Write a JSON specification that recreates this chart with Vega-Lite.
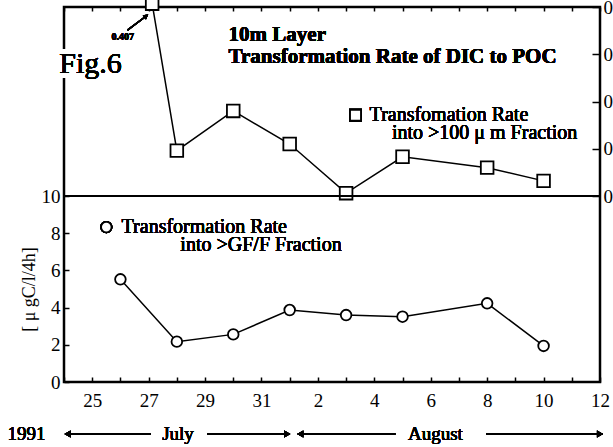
{
  "$schema": "https://vega.github.io/schema/vega-lite/v6.json",
  "width": 536,
  "height": 375,
  "autosize": {"type": "none"},
  "padding": {"left": 64, "top": 7, "right": 13, "bottom": 65},
  "background": "white",
  "config": {
    "font": "Liberation Serif",
    "view": {"stroke": "black", "strokeWidth": 2.5},
    "axis": {
      "labelColor": "black", "labelFont": "Liberation Serif", "labelFontSize": 19,
      "tickColor": "black", "tickWidth": 1.5, "grid": false, "domain": false,
      "titleColor": "black", "titleFont": "Liberation Serif", "titleFontWeight": "normal",
      "labelFlush": false, "labelOverlap": false
    },
    "text": {"font": "Liberation Serif", "color": "black"}
  },
  "resolve": {"scale": {"y": "independent"}, "axis": {"x": "independent", "y": "independent"}},
  "layer": [
    {
      "data": {
        "values": [
          {"date": "1991-07-27 03:00", "rate": 0.407},
          {"date": "1991-07-28 00:00", "rate": 0.096},
          {"date": "1991-07-30 00:00", "rate": 0.18},
          {"date": "1991-08-01 00:00", "rate": 0.11},
          {"date": "1991-08-03 00:00", "rate": 0.006},
          {"date": "1991-08-05 00:00", "rate": 0.083},
          {"date": "1991-08-08 00:00", "rate": 0.06},
          {"date": "1991-08-10 00:00", "rate": 0.032}
        ],
        "format": {"parse": {"date": "date:'%Y-%m-%d %H:%M'"}}
      },
      "layer": [
        {
          "mark": {"type": "text", "text": "Fig.6", "fontSize": 30, "align": "left", "baseline": "alphabetic", "fill": "white", "stroke": "white", "strokeWidth": 9},
          "encoding": {
            "x": {"datum": {"year": 1991, "month": 7, "date": 23, "hours": 20}, "type": "temporal"},
            "y": {"datum": 0.26}
          }
        },
        {
          "mark": {"type": "line", "color": "black", "strokeWidth": 1.5},
          "encoding": {
            "x": {
              "field": "date", "type": "temporal",
              "scale": {"domain": [{"year": 1991, "month": 7, "date": 24}, {"year": 1991, "month": 8, "date": 12}], "nice": false},
              "axis": {"orient": "top", "labels": false, "title": null, "tickCount": {"interval": "day", "step": 1}, "tickSize": -4}
            },
            "y": {
              "field": "rate", "type": "quantitative",
              "scale": {"domain": [0, 0.4], "range": [189, 0], "nice": false, "zero": false},
              "axis": {"orient": "right", "values": [0, 0.1, 0.2, 0.3, 0.4], "format": ".1f", "title": null, "tickSize": -8, "labelPadding": 11}
            }
          }
        },
        {
          "mark": {"type": "point", "shape": "square", "size": 160, "filled": true, "fill": "white", "stroke": "black", "strokeWidth": 1.8, "opacity": 1},
          "encoding": {
            "x": {"field": "date", "type": "temporal"},
            "y": {"field": "rate", "type": "quantitative"}
          }
        },
        {
          "mark": {"type": "text", "text": "10m Layer", "fontSize": 21, "fontWeight": "bold", "align": "left", "baseline": "middle"},
          "encoding": {
            "x": {"datum": {"year": 1991, "month": 7, "date": 29, "hours": 20}, "type": "temporal"},
            "y": {"datum": 0.341}
          }
        },
        {
          "mark": {"type": "text", "text": "Transformation Rate of DIC to POC", "fontSize": 21, "fontWeight": "bold", "align": "left", "baseline": "middle"},
          "encoding": {
            "x": {"datum": {"year": 1991, "month": 7, "date": 29, "hours": 20}, "type": "temporal"},
            "y": {"datum": 0.294}
          }
        },
        {
          "mark": {"type": "point", "shape": "square", "size": 120, "filled": true, "fill": "white", "stroke": "black", "strokeWidth": 1.8, "opacity": 1},
          "encoding": {
            "x": {"datum": {"year": 1991, "month": 8, "date": 3, "hours": 8}, "type": "temporal"},
            "y": {"datum": 0.171}
          }
        },
        {
          "mark": {"type": "text", "text": "Transfomation Rate", "fontSize": 20, "align": "left", "baseline": "middle"},
          "encoding": {
            "x": {"datum": {"year": 1991, "month": 8, "date": 3, "hours": 20}, "type": "temporal"},
            "y": {"datum": 0.171}
          }
        },
        {
          "mark": {"type": "text", "text": "into >100 μ m Fraction", "fontSize": 20, "align": "left", "baseline": "middle"},
          "encoding": {
            "x": {"datum": {"year": 1991, "month": 8, "date": 4, "hours": 15}, "type": "temporal"},
            "y": {"datum": 0.133}
          }
        },
        {
          "mark": {"type": "text", "text": "Fig.6", "fontSize": 30, "align": "left", "baseline": "alphabetic"},
          "encoding": {
            "x": {"datum": {"year": 1991, "month": 7, "date": 23, "hours": 20}, "type": "temporal"},
            "y": {"datum": 0.26}
          }
        },
        {
          "mark": {"type": "text", "text": "0.407", "fontSize": 10, "fontWeight": "bold", "align": "center", "baseline": "middle"},
          "encoding": {
            "x": {"datum": {"year": 1991, "month": 7, "date": 26, "hours": 2}, "type": "temporal"},
            "y": {"datum": 0.336}
          }
        },
        {
          "mark": {"type": "rule", "color": "black", "strokeWidth": 1.5},
          "encoding": {
            "x": {"datum": {"year": 1991, "month": 7, "date": 26, "hours": 6}, "type": "temporal"},
            "x2": {"datum": {"year": 1991, "month": 7, "date": 26, "hours": 22}},
            "y": {"datum": 0.351},
            "y2": {"datum": 0.381}
          }
        },
        {
          "mark": {"type": "point", "shape": "triangle-up", "size": 30, "filled": true, "color": "black", "opacity": 1, "angle": 54},
          "encoding": {
            "x": {"datum": {"year": 1991, "month": 7, "date": 26, "hours": 22}, "type": "temporal"},
            "y": {"datum": 0.381}
          }
        }
      ]
    },
    {
      "data": {
        "values": [
          {"date": "1991-07-26 00:00", "rate": 5.52},
          {"date": "1991-07-28 00:00", "rate": 2.17},
          {"date": "1991-07-30 00:00", "rate": 2.56},
          {"date": "1991-08-01 00:00", "rate": 3.87},
          {"date": "1991-08-03 00:00", "rate": 3.6},
          {"date": "1991-08-05 00:00", "rate": 3.51},
          {"date": "1991-08-08 00:00", "rate": 4.23},
          {"date": "1991-08-10 00:00", "rate": 1.94}
        ],
        "format": {"parse": {"date": "date:'%Y-%m-%d %H:%M'"}}
      },
      "layer": [
        {
          "mark": {"type": "line", "color": "black", "strokeWidth": 1.5},
          "encoding": {
            "x": {
              "field": "date", "type": "temporal",
              "axis": {
                "orient": "bottom", "title": null, "tickCount": {"interval": "day", "step": 1}, "tickSize": -5, "labelPadding": 14,
                "labelExpr": "round((datum.value - datetime(1991,6,25))/86400000) % 2 === 0 ? timeFormat(datum.value, '%-d') : ''"
              }
            },
            "y": {
              "field": "rate", "type": "quantitative",
              "scale": {"domain": [0, 10], "range": [375, 189], "nice": false, "zero": false},
              "axis": {"orient": "left", "values": [0, 2, 4, 6, 8, 10], "title": "[ μ gC/l/4h]", "titleFontSize": 18, "titlePadding": 3, "tickSize": -5, "labelPadding": 9}
            }
          }
        },
        {
          "mark": {"type": "rule", "color": "black", "strokeWidth": 2},
          "encoding": {"y": {"datum": 10}}
        },
        {
          "mark": {"type": "point", "shape": "circle", "size": 113, "filled": true, "fill": "white", "stroke": "black", "strokeWidth": 1.8, "opacity": 1},
          "encoding": {
            "x": {"field": "date", "type": "temporal"},
            "y": {"field": "rate", "type": "quantitative"}
          }
        },
        {
          "mark": {"type": "point", "shape": "circle", "size": 110, "filled": true, "fill": "white", "stroke": "black", "strokeWidth": 1.8, "opacity": 1},
          "encoding": {
            "x": {"datum": {"year": 1991, "month": 7, "date": 25, "hours": 12}, "type": "temporal"},
            "y": {"datum": 8.33}
          }
        },
        {
          "mark": {"type": "text", "text": "Transformation Rate", "fontSize": 20, "align": "left", "baseline": "middle"},
          "encoding": {
            "x": {"datum": {"year": 1991, "month": 7, "date": 26, "hours": 1}, "type": "temporal"},
            "y": {"datum": 8.33}
          }
        },
        {
          "mark": {"type": "text", "text": "into >GF/F Fraction", "fontSize": 20, "align": "left", "baseline": "middle"},
          "encoding": {
            "x": {"datum": {"year": 1991, "month": 7, "date": 28, "hours": 3}, "type": "temporal"},
            "y": {"datum": 7.37}
          }
        },
        {
          "mark": {"type": "text", "text": "1991", "fontSize": 19, "align": "center", "baseline": "middle"},
          "encoding": {
            "x": {"datum": {"year": 1991, "month": 7, "date": 22, "hours": 16}, "type": "temporal"},
            "y": {"datum": -2.8}
          }
        },
        {
          "mark": {"type": "text", "text": "July", "fontSize": 19, "align": "center", "baseline": "middle"},
          "encoding": {
            "x": {"datum": {"year": 1991, "month": 7, "date": 28, "hours": 1}, "type": "temporal"},
            "y": {"datum": -2.8}
          }
        },
        {
          "mark": {"type": "text", "text": "August", "fontSize": 19, "align": "center", "baseline": "middle"},
          "encoding": {
            "x": {"datum": {"year": 1991, "month": 8, "date": 6, "hours": 4}, "type": "temporal"},
            "y": {"datum": -2.8}
          }
        },
        {
          "mark": {"type": "rule", "color": "black", "strokeWidth": 1.5},
          "encoding": {
            "x": {"datum": {"year": 1991, "month": 7, "date": 24, "hours": 1}, "type": "temporal"},
            "x2": {"datum": {"year": 1991, "month": 7, "date": 27, "hours": 2}},
            "y": {"datum": -2.8}
          }
        },
        {
          "mark": {"type": "rule", "color": "black", "strokeWidth": 1.5},
          "encoding": {
            "x": {"datum": {"year": 1991, "month": 7, "date": 29, "hours": 2}, "type": "temporal"},
            "x2": {"datum": {"year": 1991, "month": 8, "date": 1, "hours": 0}},
            "y": {"datum": -2.8}
          }
        },
        {
          "mark": {"type": "rule", "color": "black", "strokeWidth": 1.5},
          "encoding": {
            "x": {"datum": {"year": 1991, "month": 8, "date": 1, "hours": 7}, "type": "temporal"},
            "x2": {"datum": {"year": 1991, "month": 8, "date": 4, "hours": 18}},
            "y": {"datum": -2.8}
          }
        },
        {
          "mark": {"type": "rule", "color": "black", "strokeWidth": 1.5},
          "encoding": {
            "x": {"datum": {"year": 1991, "month": 8, "date": 7, "hours": 23}, "type": "temporal"},
            "x2": {"datum": {"year": 1991, "month": 8, "date": 12, "hours": 2}},
            "y": {"datum": -2.8}
          }
        },
        {
          "mark": {"type": "point", "shape": "triangle-left", "size": 50, "filled": true, "color": "black", "opacity": 1},
          "encoding": {
            "x": {"datum": {"year": 1991, "month": 7, "date": 24, "hours": 3}, "type": "temporal"},
            "y": {"datum": -2.8}
          }
        },
        {
          "mark": {"type": "point", "shape": "triangle-right", "size": 50, "filled": true, "color": "black", "opacity": 1},
          "encoding": {
            "x": {"datum": {"year": 1991, "month": 7, "date": 31, "hours": 22}, "type": "temporal"},
            "y": {"datum": -2.8}
          }
        },
        {
          "mark": {"type": "point", "shape": "triangle-left", "size": 50, "filled": true, "color": "black", "opacity": 1},
          "encoding": {
            "x": {"datum": {"year": 1991, "month": 8, "date": 1, "hours": 9}, "type": "temporal"},
            "y": {"datum": -2.8}
          }
        },
        {
          "mark": {"type": "point", "shape": "triangle-right", "size": 50, "filled": true, "color": "black", "opacity": 1},
          "encoding": {
            "x": {"datum": {"year": 1991, "month": 8, "date": 12, "hours": 0}, "type": "temporal"},
            "y": {"datum": -2.8}
          }
        }
      ]
    }
  ]
}
